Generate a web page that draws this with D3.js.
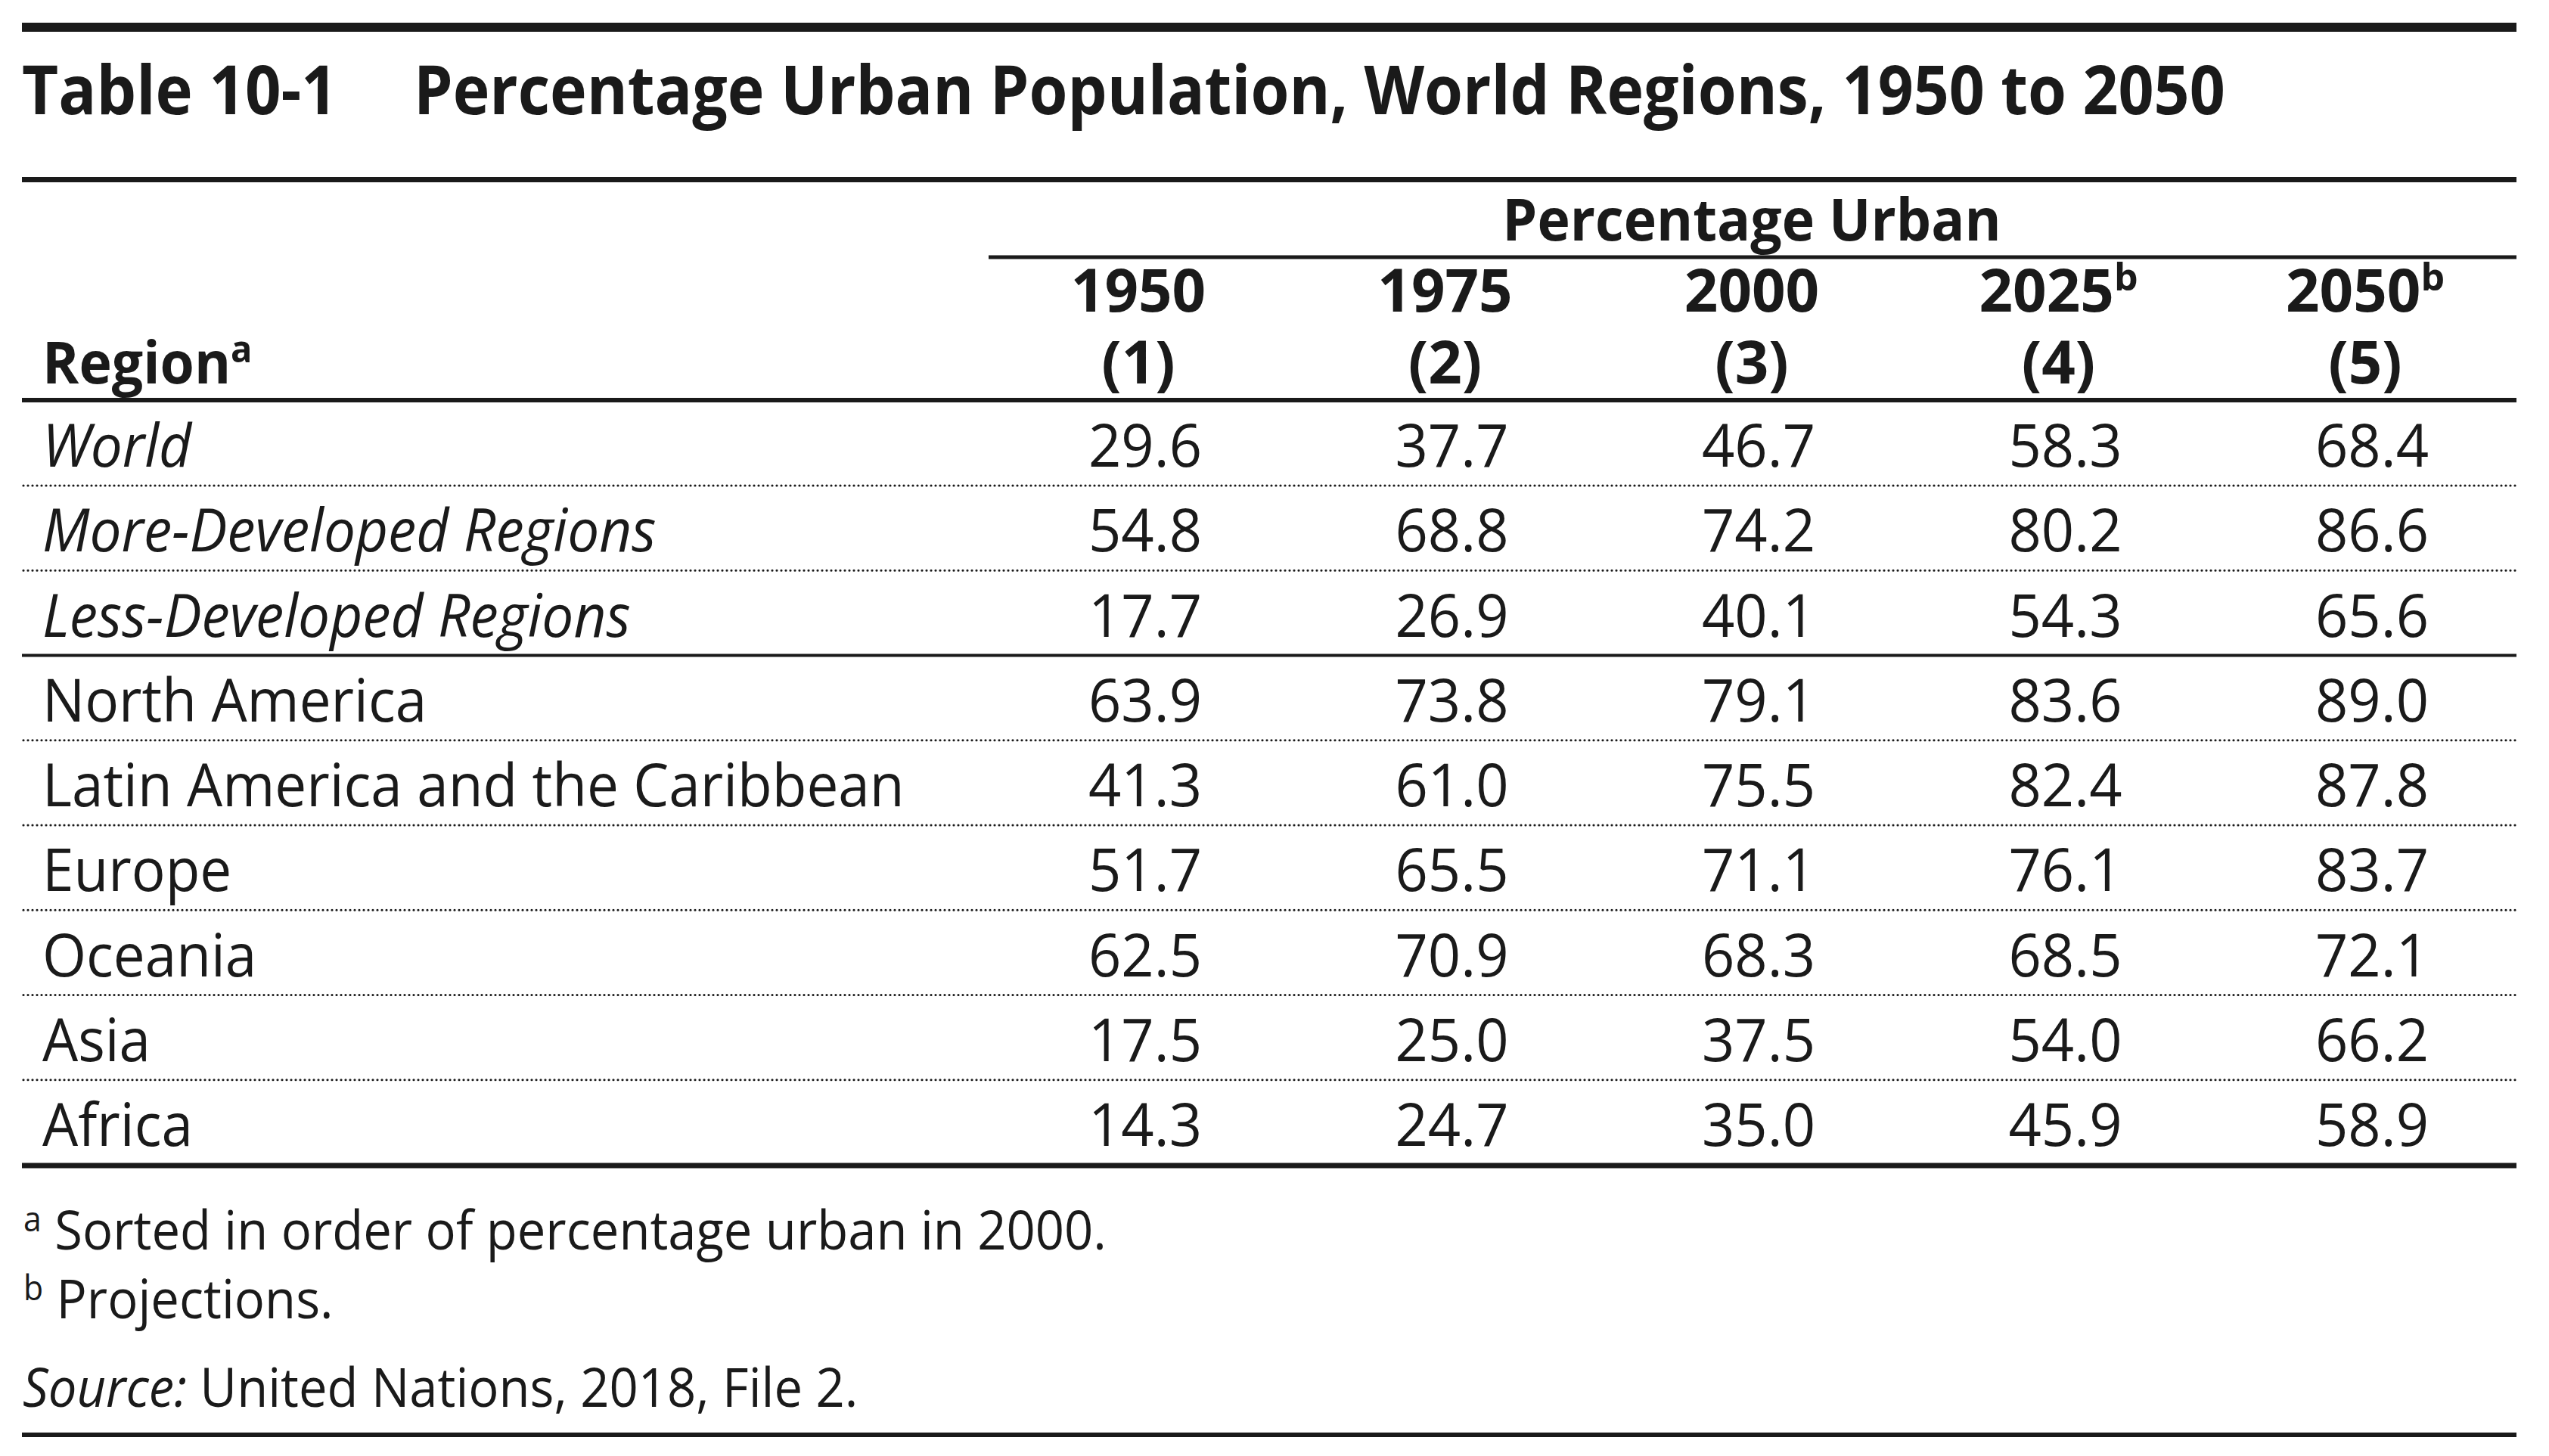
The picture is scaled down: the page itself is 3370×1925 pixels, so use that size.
<!DOCTYPE html>
<html>
<head>
<meta charset="utf-8">
<script src="https://cdn.jsdelivr.net/npm/d3@7"></script>
<style>
  html, body { margin: 0; padding: 0; background: #fff; }
  svg text { fill: #1a1a1a; font-family: "Open Sans", "Noto Sans", sans-serif; }
</style>
</head>
<body>
<svg id="table-svg"></svg>
<script>
// table contents
const regions = ['World', 'More-Developed Regions', 'Less-Developed Regions', 'North America',
  'Latin America and the Caribbean', 'Europe', 'Oceania', 'Asia', 'Africa'];
const italicRegions = ['World', 'More-Developed Regions', 'Less-Developed Regions'];
const years = ['1950', '1975', '2000', '2025', '2050'];
const colNumbers = ['(1)', '(2)', '(3)', '(4)', '(5)'];
const projectedYears = ['2025', '2050'];

const urban1950 = [29.6, 54.8, 17.7, 63.9, 41.3, 51.7, 62.5, 17.5, 14.3];
const urban1975 = [37.7, 68.8, 26.9, 73.8, 61.0, 65.5, 70.9, 25.0, 24.7];
const urban2000 = [46.7, 74.2, 40.1, 79.1, 75.5, 71.1, 68.3, 37.5, 35.0];
const urban2025 = [58.3, 80.2, 54.3, 83.6, 82.4, 76.1, 68.5, 54.0, 45.9];
const urban2050 = [68.4, 86.6, 65.6, 89.0, 87.8, 83.7, 72.1, 66.2, 58.9];

const titleNumber = 'Table 10-1';
const titleText = 'Percentage Urban Population, World Regions, 1950 to 2050';
const spanHeader = 'Percentage Urban';
const footnoteA = 'Sorted in order of percentage urban in 2000.';
const footnoteB = 'Projections.';
const sourceText = 'United Nations, 2018, File 2.';

const WIDTH = 3370, HEIGHT = 1925;
const LEFT = 29, RIGHT = 3327;
const INK = '#1a1a1a';
const SX = 0.945; // horizontal squeeze to get closer to the narrow original face

const svg = d3.select('#table-svg')
  .attr('width', WIDTH)
  .attr('height', HEIGHT);

svg.append('rect').attr('width', WIDTH).attr('height', HEIGHT).attr('fill', '#fff');

const columns = years.map((y, i) => ({
  year: y,
  num: colNumbers[i],
  values: [urban1950, urban1975, urban2000, urban2025, urban2050][i]
}));

const xScale = d3.scalePoint().domain(years).range([1505, 3127]);
const yScale = d3.scalePoint().domain(regions).range([617, 1515]);

// writes a text squeezed horizontally around its anchor
function addText(g, x, y, opts) {
  return g.append('text')
    .attr('transform', `translate(${x},${y}) scale(${opts.sx || SX},1)`)
    .attr('font-size', opts.size)
    .attr('font-weight', opts.bold ? 700 : 400)
    .attr('font-style', opts.italic ? 'italic' : 'normal')
    .attr('text-anchor', opts.anchor || 'start');
}

function rule(y, x1, x2, w) {
  svg.append('line')
    .attr('x1', x1).attr('x2', x2)
    .attr('y1', y).attr('y2', y)
    .attr('stroke', INK)
    .attr('stroke-width', w);
}

// rules
rule(36, LEFT, RIGHT, 12);
rule(237.5, LEFT, RIGHT, 7);
rule(340, 1307, RIGHT, 5);
rule(529, LEFT, RIGHT, 6);
rule(1897, LEFT, RIGHT, 6);

// title
const titleG = svg.append('g');
addText(titleG, LEFT, 151, {size: 90, bold: true, sx: 0.925}).text(titleNumber);
addText(titleG, 547, 151, {size: 90, bold: true, sx: 0.915}).text(titleText);

// header
const headG = svg.append('g');
addText(headG, xScale('2000'), 318, {size: 78, bold: true, anchor: 'middle', sx: 0.94}).text(spanHeader);

const regionHead = addText(headG, 56, 507, {size: 78, bold: true, sx: 0.94});
regionHead.append('tspan').text('Region');
regionHead.append('tspan').attr('font-size', 50).attr('dy', -28).text('a');

columns.forEach(c => {
  const t = addText(headG, xScale(c.year), 412, {size: 78, bold: true, anchor: 'middle', sx: 1.0});
  t.append('tspan').text(c.year);
  if (projectedYears.includes(c.year)) {
    t.append('tspan').attr('font-size', 50).attr('dy', -28).text('b');
  }
  addText(headG, xScale(c.year), 507, {size: 78, bold: true, anchor: 'middle', sx: 1.0}).text(c.num);
});

// body rows
const bodyG = svg.append('g');
regions.forEach((r, i) => {
  const y = yScale(r);
  addText(bodyG, 56, y, {size: 79, italic: italicRegions.includes(r)}).text(r);
  columns.forEach(c => {
    addText(bodyG, xScale(c.year) + 84, y, {size: 79, anchor: 'end', sx: 0.96})
      .text(c.values[i].toFixed(1));
  });

  // separator below each row
  const ly = y + 25;
  if (i === regions.length - 1) {
    rule(ly + 1, LEFT, RIGHT, 7);
  } else if (i === 2) {
    rule(ly, LEFT, RIGHT, 4);
  } else {
    svg.append('line')
      .attr('x1', LEFT + 2).attr('x2', RIGHT)
      .attr('y1', ly).attr('y2', ly)
      .attr('stroke', INK)
      .attr('stroke-width', 3.2)
      .attr('stroke-linecap', 'round')
      .attr('stroke-dasharray', '0 6');
  }
});

// footnotes
const footG = svg.append('g');
const fa = addText(footG, 31, 1652, {size: 72, sx: 0.93});
fa.append('tspan').attr('font-size', 46).attr('dy', -24).text('a');
fa.append('tspan').attr('dy', 24).text(' ' + footnoteA);

const fb = addText(footG, 31, 1743, {size: 72, sx: 0.93});
fb.append('tspan').attr('font-size', 46).attr('dy', -24).text('b');
fb.append('tspan').attr('dy', 24).text(' ' + footnoteB);

const src = addText(footG, 30, 1860, {size: 72, sx: 0.93});
src.append('tspan').attr('font-style', 'italic').text('Source:');
src.append('tspan').text(' ' + sourceText);
</script>
</body>
</html>
